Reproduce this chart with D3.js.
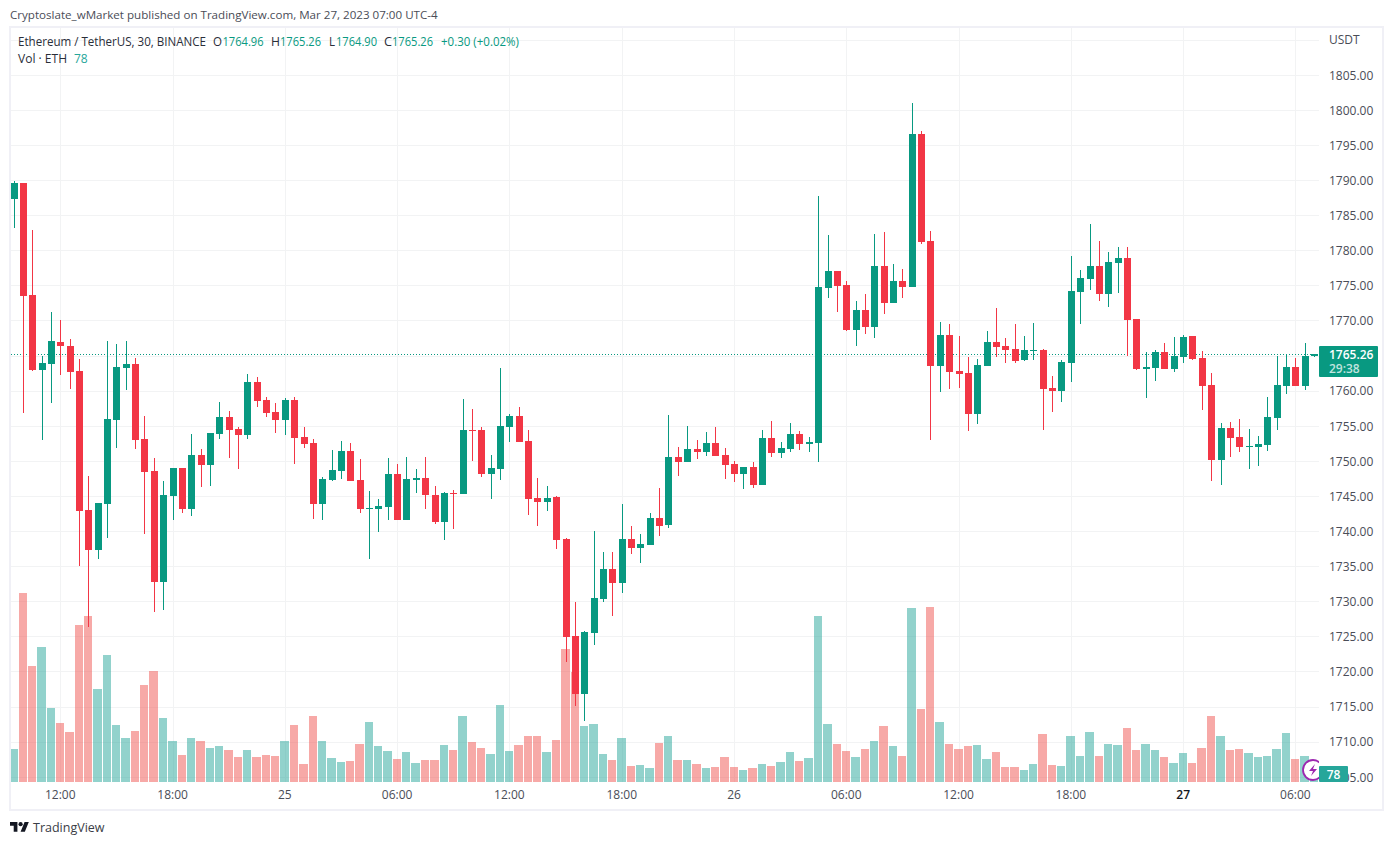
<!DOCTYPE html>
<html><head><meta charset="utf-8">
<script src="https://cdn.jsdelivr.net/npm/d3@7"></script>
<style>
html,body{margin:0;padding:0;background:#fff;overflow:hidden}
svg{display:block}
text{font-family:"Open Sans",sans-serif;font-size:12px}
</style></head><body>
<svg id="c" width="1393" height="845"></svg>
<script>
const opens=[1787.37,1789.64,1773.69,1763.00,1763.86,1766.99,1766.42,1762.86,1743.06,1737.36,
1743.92,1755.88,1763.29,1763.86,1753.17,1748.62,1732.81,1745.06,1749.05,1743.20,
1750.90,1749.47,1753.89,1756.31,1754.60,1753.75,1761.30,1758.73,1757.02,1755.88,
1758.73,1753.46,1752.61,1743.92,1747.34,1748.62,1751.47,1747.34,1743.20,1743.20,
1743.49,1748.19,1741.64,1747.34,1747.62,1745.20,1741.35,1745.48,1745.34,1754.46,
1754.46,1748.19,1748.90,1754.89,1756.45,1752.89,1744.77,1744.20,1744.91,1738.93,
1725.11,1716.85,1725.54,1730.39,1734.66,1732.66,1738.93,1737.65,1738.08,1741.92,
1740.92,1750.61,1749.90,1751.75,1751.32,1752.61,1750.90,1749.61,1748.19,1749.19,
1746.62,1753.32,1751.18,1751.75,1753.89,1752.46,1752.61,1774.68,1777.11,1775.11,
1768.70,1771.55,1769.13,1777.82,1772.55,1775.68,1774.83,1796.62,1781.38,1763.57,
1767.99,1762.86,1762.58,1756.74,1763.57,1766.99,1766.42,1766.00,1764.43,1765.71,
1765.85,1760.44,1760.01,1764.00,1774.12,1775.97,1777.82,1773.83,1778.25,1778.96,
1770.27,1763.15,1763.29,1765.57,1763.15,1764.86,1767.85,1764.71,1760.87,1750.19,
1754.74,1753.46,1752.04,1752.04,1752.32,1756.17,1760.73,1763.43,1760.73,1764.96];
const highs=[1789.90,1789.64,1782.95,1765.00,1771.27,1770.13,1767.42,1764.57,1747.91,1744.06,
1767.13,1766.70,1767.13,1764.71,1756.45,1750.47,1747.20,1749.05,1749.05,1753.89,
1751.75,1754.03,1758.45,1757.17,1754.89,1762.43,1762.00,1759.16,1758.30,1759.02,
1759.16,1754.89,1753.18,1747.76,1751.61,1752.89,1752.61,1750.33,1745.77,1744.63,
1750.47,1749.62,1750.61,1748.90,1750.61,1746.48,1745.63,1745.91,1758.87,1757.45,
1754.89,1750.90,1763.29,1756.74,1757.73,1754.46,1747.62,1746.48,1745.06,1739.07,
1729.96,1725.82,1740.07,1737.08,1737.08,1743.92,1740.78,1739.64,1742.64,1746.20,
1756.60,1752.04,1755.03,1753.03,1754.17,1754.89,1751.89,1750.04,1749.19,1749.90,
1754.46,1755.74,1752.75,1755.46,1754.32,1753.46,1787.79,1782.23,1777.11,1775.68,
1772.83,1773.83,1782.37,1782.66,1778.10,1777.39,1801.04,1797.05,1782.80,1769.84,
1769.56,1767.85,1764.86,1764.57,1768.56,1771.83,1767.56,1769.56,1767.85,1769.70,
1766.00,1762.15,1764.43,1779.24,1777.24,1783.80,1781.38,1779.81,1780.53,1780.53,
1770.27,1765.57,1765.85,1766.85,1767.70,1767.99,1767.85,1765.71,1762.58,1755.46,
1755.60,1756.03,1754.60,1753.60,1759.16,1765.00,1765.28,1764.71,1766.85,1765.26];
const lows=[1783.23,1756.88,1762.86,1753.03,1758.30,1762.29,1760.30,1735.09,1726.40,1736.08,
1739.07,1751.90,1760.16,1751.75,1739.64,1728.53,1728.82,1741.64,1742.63,1742.20,
1746.34,1746.48,1753.18,1750.47,1748.90,1753.18,1757.74,1756.31,1754.03,1753.75,
1749.62,1751.89,1741.78,1741.64,1747.19,1747.48,1747.19,1742.63,1736.08,1739.93,
1741.64,1741.64,1741.64,1745.48,1743.20,1741.07,1738.79,1740.36,1745.34,1750.04,
1747.76,1744.63,1747.34,1752.75,1752.75,1742.35,1740.78,1742.92,1737.51,1721.41,
1715.14,1713.00,1723.83,1729.96,1727.96,1731.24,1736.80,1735.51,1738.08,1739.36,
1740.50,1747.90,1749.90,1750.33,1750.75,1750.75,1747.48,1747.05,1746.05,1746.20,
1746.62,1750.61,1750.47,1751.32,1751.61,1751.32,1749.90,1773.26,1771.27,1768.56,
1766.42,1768.13,1767.56,1770.98,1772.55,1773.26,1774.83,1780.95,1753.03,1759.87,
1760.30,1760.44,1754.32,1755.31,1763.57,1764.86,1764.00,1764.00,1764.29,1764.43,
1754.46,1757.02,1758.45,1761.30,1769.56,1774.40,1772.83,1771.98,1773.97,1765.00,
1763.00,1759.01,1761.44,1763.15,1762.72,1764.00,1764.43,1757.30,1747.18,1746.62,
1750.61,1751.32,1748.90,1749.33,1751.46,1754.46,1759.59,1760.73,1760.16,1764.90];
const closes=[1789.64,1773.55,1763.00,1764.00,1767.13,1766.42,1762.72,1742.92,1737.36,1744.06,
1756.03,1763.43,1763.86,1753.03,1748.48,1732.81,1745.20,1749.05,1743.20,1750.90,
1749.47,1754.03,1756.31,1754.46,1753.75,1761.30,1758.59,1756.88,1755.88,1758.73,
1753.32,1752.46,1743.92,1747.48,1748.76,1751.47,1747.19,1743.20,1743.35,1743.63,
1748.19,1741.64,1747.48,1747.62,1745.20,1741.35,1745.48,1745.34,1754.46,1754.32,
1748.19,1749.05,1755.03,1756.45,1752.75,1744.63,1744.20,1744.77,1738.79,1724.97,
1716.85,1725.68,1730.53,1734.66,1732.66,1738.93,1737.65,1738.22,1741.92,1740.78,
1750.61,1749.90,1751.75,1751.32,1752.61,1750.75,1749.47,1748.19,1749.19,1746.62,
1753.32,1751.18,1751.89,1753.89,1752.46,1752.75,1774.83,1777.11,1774.97,1768.70,
1771.55,1769.13,1777.82,1772.55,1775.68,1774.83,1796.62,1781.24,1763.57,1767.99,
1762.72,1762.43,1756.74,1763.72,1766.99,1766.28,1765.85,1764.29,1765.85,1765.85,
1760.30,1760.01,1764.14,1774.26,1776.10,1777.82,1773.83,1778.39,1778.96,1770.13,
1763.15,1763.43,1765.57,1763.15,1765.00,1767.70,1764.57,1760.73,1750.19,1754.74,
1753.32,1752.04,1752.18,1752.46,1756.31,1760.87,1763.43,1760.73,1765.00,1765.26];
const volumes=[368,2123,1301,1515,829,660,559,1763,1864,1043,1425,638,491,570,1088,1245,716,458,300,491,
458,379,401,356,278,356,278,300,289,458,638,199,739,458,266,221,233,424,671,401,
345,255,334,210,244,244,413,356,739,446,379,311,863,345,413,514,514,334,469,1493,
1234,626,649,311,244,491,176,188,154,435,514,244,244,199,154,165,278,165,131,154,
199,176,221,334,233,266,1864,649,424,345,278,368,458,626,401,289,1954,818,1965,671,
424,368,401,413,255,334,165,165,131,199,536,188,176,514,289,559,289,424,413,604,
356,424,356,278,210,323,210,379,739,514,356,368,323,278,289,368,548,255,289,78];
const timeTickIdx=[5,17,29,41,53,65,77,89,101,113,125,137];
const timeTickLabels=["12:00","18:00","25","06:00","12:00","18:00","26","06:00","12:00","18:00","27","06:00"];
const priceTicks=[1705,1710,1715,1720,1725,1730,1735,1740,1745,1750,1755,1760,1770,1775,1780,1785,1790,1795,1800,1805];
const gridPrices=[...priceTicks,1765,1810];
const lastPrice=1765.26;

const UP="#089981",DOWN="#F23645",VUP="#26a69a",VDOWN="#ef5350",GRID="#f2f3f4",FRAME="#f0f0f6",TXT="#4a4d57",DARK="#2a2e39";
const svg=d3.select("#c");
const L=11,R=1319,T=28,B=782;
const x=d3.scaleLinear().domain([0,139]).range([14,14+139*9.357]);
const y=d3.scaleLinear().domain([1705,1805]).range([777.2,75.2]);
const v=d3.scaleLinear().domain([0,2250]).range([781.7,581.7]);
const px=i=>Math.floor(x(i));
const data=opens.map((o,i)=>({i,o,h:highs[i],l:lows[i],c:closes[i],vol:volumes[i],up:closes[i]>=o}));

svg.append("defs").append("clipPath").attr("id","plot").append("rect")
  .attr("x",L).attr("y",T).attr("width",R-L).attr("height",B-T);

// frame
svg.append("rect").attr("x",10).attr("y",27).attr("width",1373).attr("height",783)
  .attr("fill","#fff").attr("stroke",FRAME).attr("stroke-width",2);

const plot=svg.append("g").attr("clip-path","url(#plot)");
// grid
plot.append("g").selectAll("rect").data(gridPrices).join("rect")
  .attr("x",L).attr("width",R-L).attr("y",d=>Math.floor(y(d))).attr("height",1).attr("fill",GRID);
plot.append("g").selectAll("rect").data(timeTickIdx).join("rect")
  .attr("x",d=>px(d)).attr("width",1).attr("y",T).attr("height",B-T).attr("fill",GRID);

// volume
plot.append("g").selectAll("rect").data(data).join("rect")
  .attr("x",d=>d.i?px(d.i-1)+5:11)
  .attr("width",d=>(px(d.i)+4)-(d.i?px(d.i-1)+5:11))
  .attr("y",d=>Math.round(v(d.vol)))
  .attr("height",d=>Math.round(v(0))-Math.round(v(d.vol)))
  .attr("fill",d=>d.up?VUP:VDOWN).attr("fill-opacity",.5);

// last price line
plot.append("line").attr("x1",L).attr("x2",R)
  .attr("y1",Math.floor(y(lastPrice))+.5).attr("y2",Math.floor(y(lastPrice))+.5)
  .attr("stroke",UP).attr("stroke-dasharray","1 2");

// candles
const cg=plot.append("g").selectAll("g").data(data).join("g").attr("fill",d=>d.up?UP:DOWN);
cg.append("rect").attr("x",d=>px(d.i)).attr("width",1)
  .attr("y",d=>Math.round(y(d.h))).attr("height",d=>Math.max(1,Math.round(y(d.l))-Math.round(y(d.h))));
cg.append("rect").attr("x",d=>px(d.i)-3).attr("width",7)
  .attr("y",d=>Math.round(y(Math.max(d.o,d.c))))
  .attr("height",d=>Math.max(1,Math.round(y(Math.min(d.o,d.c)))-Math.round(y(Math.max(d.o,d.c)))));

// icon
const ic=plot.append("g").attr("transform","translate(1313,770)");
ic.append("circle").attr("r",10).attr("fill","#fff").attr("stroke","#9c27b0").attr("stroke-width",1.8);
ic.append("path").attr("d","M2-6L-4 1H0L-2 6L4-1H0Z").attr("fill","#9c27b0");

// axes
const xAxis=d3.axisBottom(x).tickValues(timeTickIdx).tickFormat((d,i)=>timeTickLabels[i]).tickSize(0).tickPadding(8);
const xg=svg.append("g").attr("transform","translate(-1,782)").call(xAxis);
xg.select(".domain").remove();
xg.selectAll("text").attr("fill",TXT).style("font-size","12px").style("font-family",'"Open Sans",sans-serif')
  .filter(d=>d===125).attr("fill","#131722").style("font-weight","600");
const yAxis=d3.axisRight(y).tickValues(priceTicks).tickFormat(d3.format(".2f")).tickSize(0).tickPadding(10);
const yg=svg.append("g").attr("transform","translate(1319,0)").call(yAxis);
yg.select(".domain").remove();
yg.selectAll("text").attr("fill",TXT).style("font-size","12px").style("font-family",'"Open Sans",sans-serif');
svg.append("text").attr("x",1329).attr("y",44).attr("fill",TXT).text("USDT");

// last price tag
svg.append("rect").attr("x",1319).attr("y",346).attr("width",59).attr("height",31).attr("rx",1).attr("fill",UP);
svg.append("text").attr("x",1329).attr("y",359).attr("fill","#fff").style("font-weight","600").text(lastPrice.toFixed(2));
svg.append("text").attr("x",1329).attr("y",373).attr("fill","#fff").attr("fill-opacity",.75).style("font-weight","600").text("29:38");
// volume tag
svg.append("rect").attr("x",1319).attr("y",766).attr("width",29).attr("height",16).attr("rx",1).attr("fill",VUP);
svg.append("text").attr("x",1333.5).attr("y",779).attr("text-anchor","middle").attr("fill","#fff").style("font-weight","600").text(volumes[volumes.length-1]);
// header
svg.append("text").attr("x",10).attr("y",19).attr("fill",TXT).style("font-size","11.6px").text("Cryptoslate_wMarket published on TradingView.com, Mar 27, 2023 07:00 UTC-4");
// legend: x, text, colour, fitted width
const legend=[
 [18,"Ethereum / TetherUS, 30, BINANCE",DARK,188],
 [213,"O",DARK,9],[222.5,"1764.96",UP,41],[271,"H",DARK,9],[280,"1765.26",UP,41],
 [329,"L",DARK,6],[336,"1764.90",UP,41],[384,"C",DARK,8],[392,"1765.26",UP,41],[441,"+0.30 (+0.02%)",UP,78]];
svg.append("g").selectAll("text").data(legend).join("text")
  .attr("x",d=>d[0]).attr("y",46).attr("fill",d=>d[2])
  .attr("textLength",d=>d[3]).attr("lengthAdjust","spacingAndGlyphs").text(d=>d[1]);
svg.append("text").attr("x",18).attr("y",63).attr("fill",DARK).attr("textLength",49).attr("lengthAdjust","spacingAndGlyphs").text("Vol · ETH");
svg.append("text").attr("x",74).attr("y",63).attr("fill",VUP).text("78");
// footer logo
const logo=svg.append("g").attr("transform","translate(10,820) scale(.53)").attr("fill","#131722");
logo.append("path").attr("d","M14 22H7V11H0V4h14v18zM28 22h-8l7.5-18h8L28 22z");
logo.append("circle").attr("cx",20).attr("cy",8).attr("r",4);
svg.append("text").attr("x",33).attr("y",832).attr("fill","#3a3d46").style("font-size","12.5px").text("TradingView");
</script>
</body></html>
